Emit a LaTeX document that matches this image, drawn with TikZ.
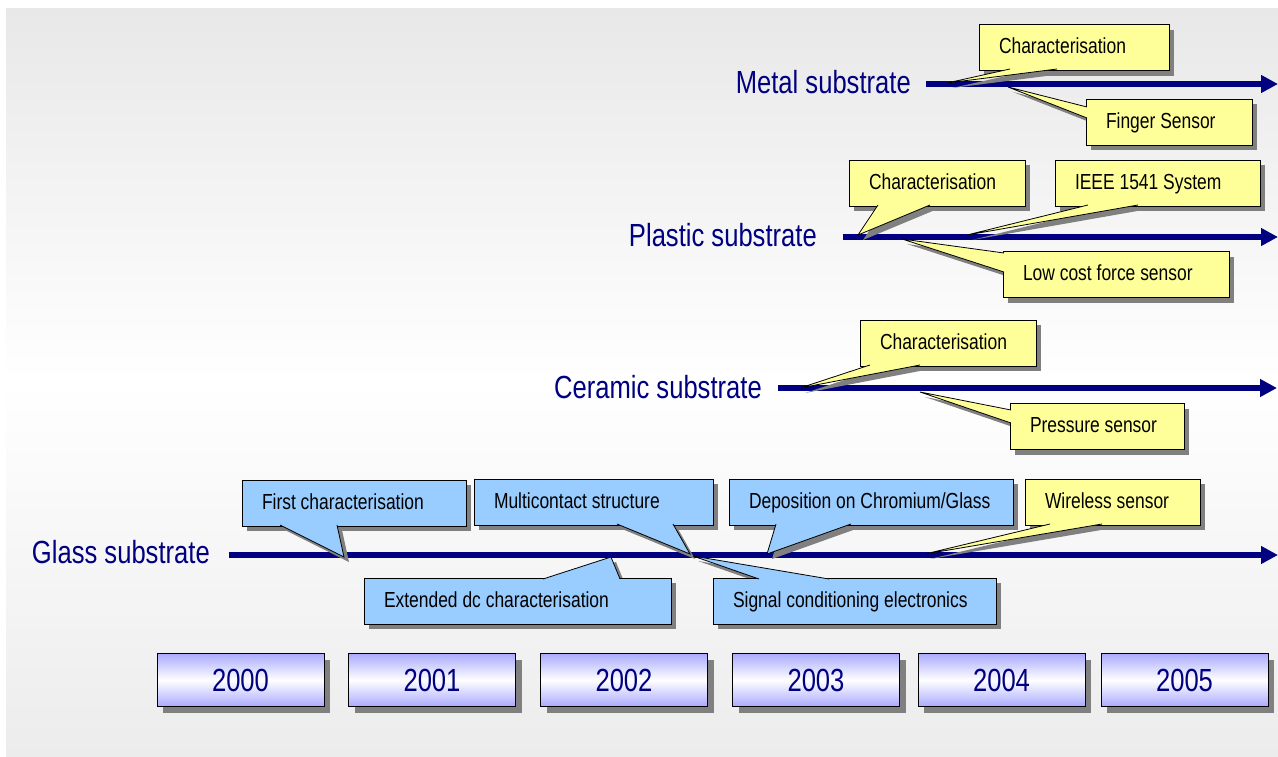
\documentclass[tikz,border=0pt]{standalone}
\usepackage{fontspec}
\newfontfamily\slidefont[FakeStretch=0.8]{Liberation Sans}
\usetikzlibrary{arrows.meta, shadows}

\definecolor{navy}{RGB}{0,0,128}
\definecolor{notey}{RGB}{255,255,153}
\definecolor{noteb}{RGB}{153,204,255}
\definecolor{shadowgray}{RGB}{128,128,128}
\definecolor{bgtop}{RGB}{232,232,232}
\definecolor{bgbot}{RGB}{236,236,236}
\definecolor{lavender}{RGB}{170,170,255}

\tikzset{
  timeline/.style={navy, line width=6pt, -{Triangle[length=17pt,width=17pt]}},
  sublabel/.style={anchor=base east, inner sep=0pt, text=navy,
    font=\slidefont\fontsize{32}{32}\selectfont},
  note/.style={draw=black, line width=0.8pt, minimum height=46pt,
    inner xsep=20pt, inner ysep=0pt, text height=14pt, text depth=2pt,
    font=\slidefont\fontsize{21.8}{22}\selectfont,
    drop shadow={shadow xshift=5pt, shadow yshift=-5pt, fill=shadowgray, opacity=1}},
  yearbox/.style={draw=black, line width=1pt, minimum width=167pt, minimum height=53pt,
    top color=lavender, bottom color=lavender, middle color=white, text=navy,
    font=\slidefont\fontsize{32}{32}\selectfont,
    drop shadow={shadow xshift=6pt, shadow yshift=-6pt, fill=shadowgray, opacity=1}}
}

% name, colour, centre, width, text, pointer base, pointer base, pointer tip
\newcommand{\callout}[8]{%
  \pgfmathsetmacro{\tw}{#4-40}
  \fill[shadowgray] ([shift={(5,5)}]#6) -- ([shift={(5,5)}]#8) -- ([shift={(5,5)}]#7) -- cycle;
  \node[note, fill=#2] (#1) at (#3) {\makebox[\tw pt][l]{#5}};
  \fill[#2] (#6) -- (#8) -- (#7) -- cycle;
  \draw[line width=0.8pt] (#6) -- (#8) -- (#7);
}

\begin{document}
\begin{tikzpicture}[x=1pt, y=-1pt]
    \useasboundingbox (0,0) rectangle (1278,756);
    \shade[top color=bgtop, bottom color=bgbot, middle color=white] (6,8) rectangle (1278,756);

    \coordinate (metalstart) at (926,84);
    \coordinate (metalend) at (1278,84);
    \coordinate (plasticstart) at (843,237);
    \coordinate (plasticend) at (1278,237);
    \coordinate (ceramicstart) at (778,388);
    \coordinate (ceramicend) at (1277,388);
    \coordinate (glassstart) at (229,555);
    \coordinate (glassend) at (1278,555);

    \node[sublabel] (metal) at (911,93) {Metal substrate};
    \node[sublabel] (plastic) at (817,246) {Plastic substrate};
    \node[sublabel] (ceramic) at (762,398) {Ceramic substrate};
    \node[sublabel] (glass) at (210,563) {Glass substrate};

    \draw[timeline] (metalstart) -- (metalend);
    \draw[timeline] (plasticstart) -- (plasticend);
    \draw[timeline] (ceramicstart) -- (ceramicend);
    \draw[timeline] (glassstart) -- (glassend);

    \callout{metalchar}{notey}{1074,47.5}{190}{Characterisation}{1010,69}{1057,69}{947,83}
    \callout{finger}{notey}{1169,122}{166}{Finger Sensor}{1087,107}{1087,118}{1008,87}

    \callout{plasticchar}{notey}{937,183}{176}{Characterisation}{878,205}{930,205}{858,235}
    \callout{ieee}{notey}{1157.5,183}{205}{IEEE 1541 System}{1088,205}{1138,205}{967,235}
    \callout{lowcost}{notey}{1116,274.5}{226}{Low cost force sensor}{1004,253}{1004,272}{902,239}

    \callout{ceramicchar}{notey}{948,343}{176}{Characterisation}{870,365}{920,365}{800,388}
    \callout{pressure}{notey}{1097,426.5}{174}{Pressure sensor}{1011,410}{1011,423}{920,392}

    \callout{firstchar}{noteb}{354,503}{224}{First characterisation}{280,525}{337,525}{344,557}
    \callout{multicontact}{noteb}{593.5,502}{239}{Multicontact structure}{617,524}{673,524}{690,554}
    \callout{deposition}{noteb}{871,502}{284}{Deposition on Chromium/Glass}{776,524}{851,524}{767,554}
    \callout{wireless}{notey}{1112.5,502}{175}{Wireless sensor}{1050,524}{1102,524}{925,554}
    \callout{extended}{noteb}{517.5,601}{307}{Extended dc characterisation}{543,579}{620,579}{611,557}
    \callout{signal}{noteb}{854.5,601}{283}{Signal conditioning electronics}{759,579}{829,579}{693,556}

    \foreach \yr/\cx in {2000/240.5, 2001/432, 2002/624, 2003/816, 2004/1001.5, 2005/1184.5}
        \node[yearbox] (y\yr) at (\cx,680) {\yr};
\end{tikzpicture}
\end{document}
